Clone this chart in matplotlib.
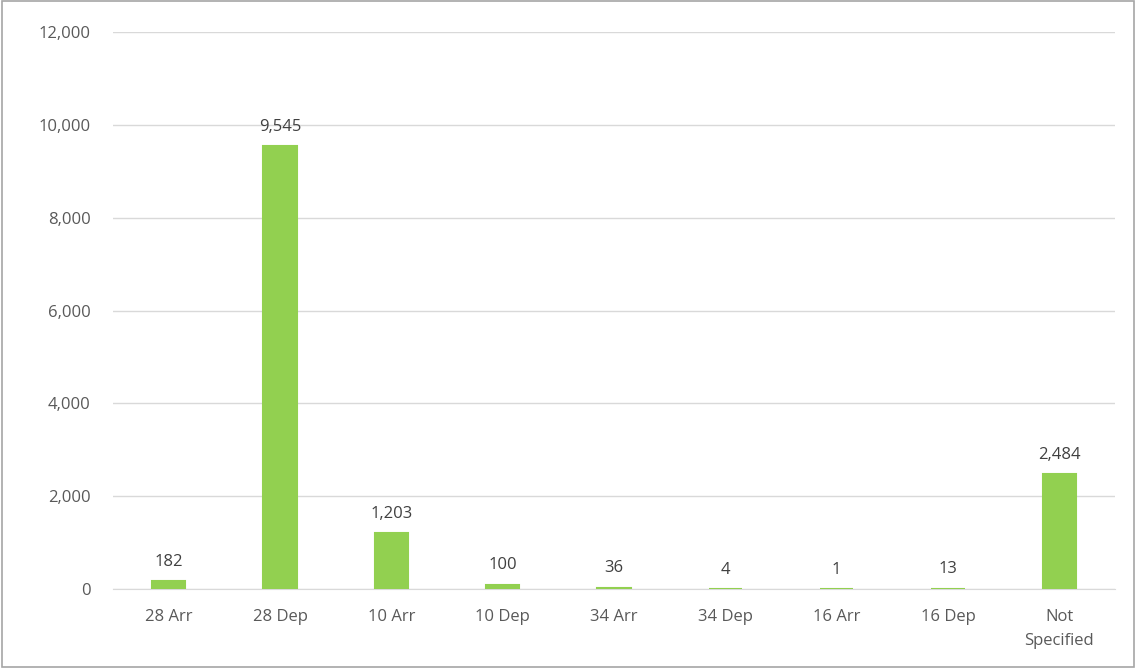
import numpy as np
import matplotlib.pyplot as plt
from matplotlib.patches import Rectangle

categories = ['28 Arr', '28 Dep', '10 Arr', '10 Dep', '34 Arr', '34 Dep', '16 Arr', '16 Dep', 'Not\nSpecified']
values = [182, 9545, 1203, 100, 36, 4, 1, 13, 2484]

plt.rcParams['font.family'] = ['Open Sans', 'DejaVu Sans']

fig = plt.figure(figsize=(11.36, 6.68), dpi=100)
ax = fig.add_axes([0.0995, 0.118, 0.882, 0.834])

x = np.arange(len(categories))
ax.bar(x, values, width=0.30, color='#92d050', edgecolor='#92d050', linewidth=1.5, zorder=3)

for xi, v in zip(x, values):
    ax.annotate(f'{v:,}', (xi, v), xytext=(0, 8), textcoords='offset points',
                ha='center', va='bottom', fontsize=12, color='#404040')

ax.set_xlim(-0.5, len(categories) - 0.5)
ax.set_ylim(0, 12000)
ax.set_yticks(np.arange(0, 12001, 2000))
ax.yaxis.set_major_formatter(plt.FuncFormatter(lambda v, p: f'{int(v):,}'))
ax.set_xticks(x)
ax.set_xticklabels(categories, linespacing=1.7)
ax.tick_params(axis='both', length=0, labelsize=12, labelcolor='#595959')
ax.tick_params(axis='x', pad=14)
ax.tick_params(axis='y', pad=16)
ax.grid(axis='y', color='#d9d9d9', linewidth=1, zorder=0)
for s in ['top', 'right', 'left']:
    ax.spines[s].set_visible(False)
ax.spines['bottom'].set_color('#d9d9d9')

fig.patches.append(Rectangle((0.002, 0.002), 0.996, 0.996, transform=fig.transFigure,
                             fill=False, edgecolor='#a6a6a6', linewidth=1.2))

fig.savefig('out.png', dpi=100)
